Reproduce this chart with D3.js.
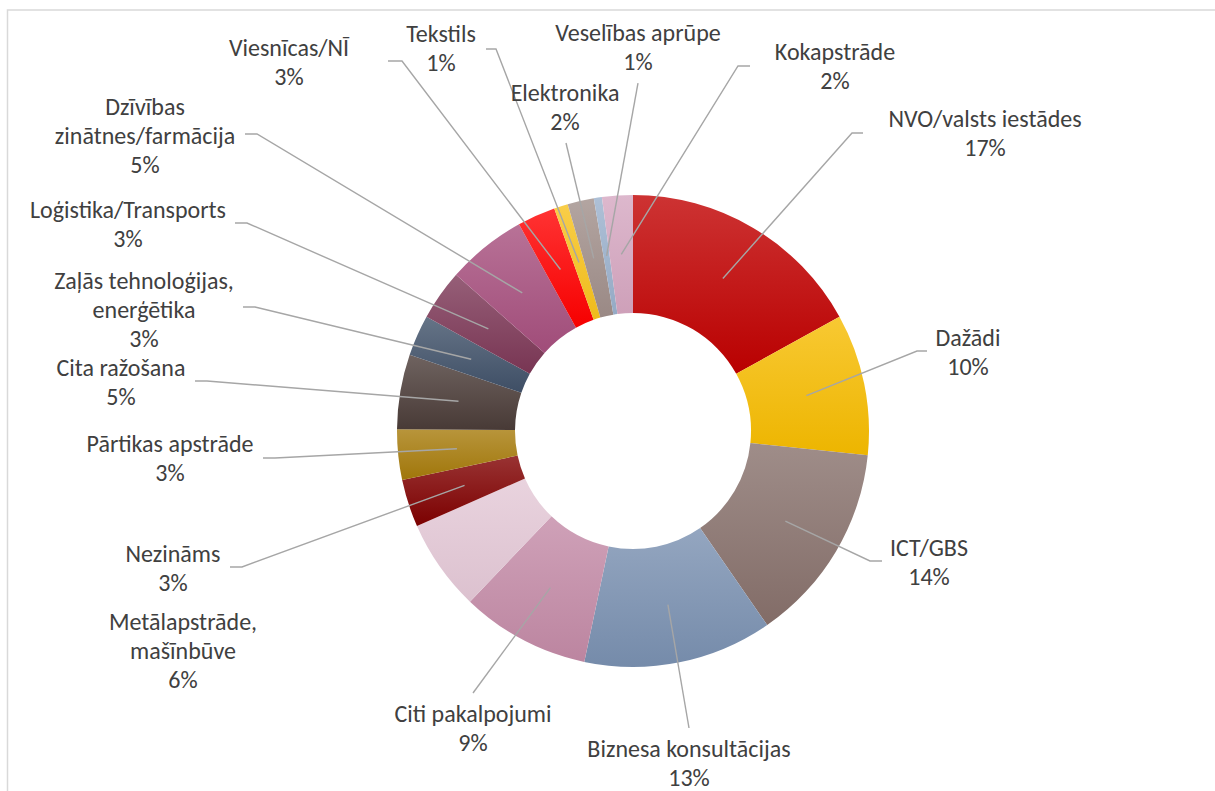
<!DOCTYPE html>
<html>
<head>
<meta charset="utf-8">
<script src="https://cdn.jsdelivr.net/npm/d3@7"></script>
<style>
  html, body { margin: 0; padding: 0; background: #fff; }
  svg { display: block; }
  .lbl { font-family: Carlito, Calibri, Lato, sans-serif; font-size: 24px; fill: #404040; }
  .leader { fill: none; stroke: #a6a6a6; stroke-width: 1.4; }
</style>
</head>
<body>
<div id="viz"></div>
<script>
// Data (share of companies by sector, clockwise from 12 o'clock)
const categories = [
  "NVO/valsts iestādes", "Dažādi", "ICT/GBS", "Biznesa konsultācijas",
  "Citi pakalpojumi", "Metālapstrāde,\nmašīnbūve", "Nezināms", "Pārtikas apstrāde",
  "Cita ražošana", "Zaļās tehnoloģijas,\nenerģētika", "Loģistika/Transports",
  "Dzīvības\nzinātnes/farmācija", "Viesnīcas/NĪ", "Tekstils", "Elektronika",
  "Veselības aprūpe", "Kokapstrāde"
];
const values = [16.9, 9.65, 13.7, 12.9, 8.8, 6.25, 3.25, 3.45, 5.1, 2.8, 3.45, 5.45, 2.6, 0.95, 1.8, 0.55, 2.1];

// Slice colours (Excel style gradient, lighter on top)
const colors = [
  "#c00000", "#f6bc00", "#87706b", "#7990b0", "#c38aa6", "#e4c8d6", "#7f0000", "#a67a0a",
  "#4b3c38", "#405169", "#7c3756", "#a64f7d", "#ff0000", "#f7c21c", "#a08e8a", "#9ab0cc", "#d5a6c0"
];

// Label layout: text centre x, first line centre y, leader start and knee
const labelLayout = [
  {x: 985, y: 119, sx: 863, sy: 133, kx: 852},
  {x: 968, y: 338, sx: 927, sy: 351, kx: 917},
  {x: 929, y: 548, sx: 882, sy: 561, kx: 870},
  {x: 689, y: 749, sx: 689, sy: 728, kx: null},
  {x: 473, y: 714, sx: 473, sy: 693, kx: null},
  {x: 183, y: 622, sx: null},
  {x: 173, y: 554, sx: 230, sy: 567, kx: 242},
  {x: 170, y: 444, sx: 263, sy: 458, kx: 275},
  {x: 121, y: 368, sx: 195, sy: 381, kx: 207},
  {x: 144, y: 281, sx: 243, sy: 307, kx: 255},
  {x: 128, y: 210, sx: 235, sy: 223, kx: 247},
  {x: 145, y: 107, sx: 245, sy: 134, kx: 257},
  {x: 289, y: 48, sx: 388, sy: 61, kx: 402},
  {x: 441, y: 34, sx: 486, sy: 49, kx: 496},
  {x: 565, y: 93, sx: 566, sy: 143, kx: null},
  {x: 638, y: 33, sx: 638, sy: 83, kx: null},
  {x: 835, y: 52, sx: 750, sy: 66, kx: 738}
];

const width = 1215;
const height = 791;
const cx = 633, cy = 431;
const outerR = 236, innerR = 118;
const lineGap = 29;

const svg = d3.select("#viz").append("svg")
  .attr("width", width)
  .attr("height", height);

// chart area border
svg.append("rect")
  .attr("x", 7.5).attr("y", 10)
  .attr("width", 1400).attr("height", 1000)
  .attr("fill", "none")
  .attr("stroke", "#d9d9d9")
  .attr("stroke-width", 1.5);

const defs = svg.append("defs");
colors.forEach((c, i) => {
  const g = defs.append("linearGradient")
    .attr("id", "grad" + i)
    .attr("x1", 0).attr("y1", 0).attr("x2", 0).attr("y2", 1);
  g.append("stop").attr("offset", "0%").attr("stop-color", d3.interpolateRgb(c, "#fff")(0.2));
  g.append("stop").attr("offset", "100%").attr("stop-color", d3.color(c).darker(0.1));
});

const total = d3.sum(values);
const fmt = d3.format(".0%");

const pie = d3.pie().sort(null).value(d => d);
const arc = d3.arc().innerRadius(innerR).outerRadius(outerR);
const arcs = pie(values);

const g = svg.append("g").attr("transform", "translate(" + cx + "," + cy + ")");

g.selectAll("path.slice")
  .data(arcs)
  .enter().append("path")
  .attr("class", "slice")
  .attr("d", arc)
  .attr("fill", (d, i) => "url(#grad" + i + ")");

// leader lines
const lineGen = d3.line();
arcs.forEach((d, i) => {
  const L = labelLayout[i];
  if (L.sx == null) return;
  const c = arc.centroid(d);
  const pts = [[L.sx, L.sy]];
  if (L.kx != null) pts.push([L.kx, L.sy]);
  pts.push([cx + c[0], cy + c[1]]);
  svg.append("path").attr("class", "leader").attr("d", lineGen(pts));
});

// labels
arcs.forEach((d, i) => {
  const L = labelLayout[i];
  const lines = categories[i].split("\n").concat([fmt(values[i] / total)]);
  const t = svg.append("text")
    .attr("class", "lbl")
    .attr("text-anchor", "middle");
  lines.forEach((s, k) => {
    t.append("tspan")
      .attr("x", L.x)
      .attr("y", L.y + k * lineGap)
      .attr("dy", "0.35em")
      .text(s);
  });
});
</script>
</body>
</html>
